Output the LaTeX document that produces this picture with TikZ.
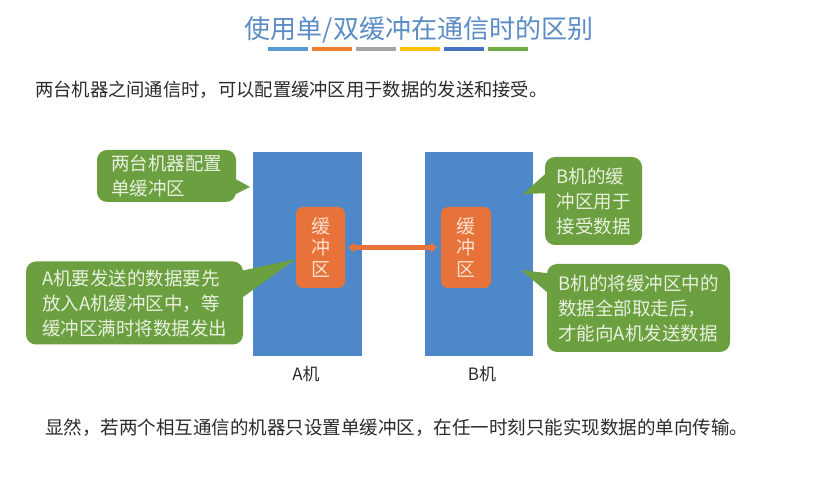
\documentclass[tikz,border=0pt]{standalone}
\usepackage{fontspec}
\setmainfont{Noto Sans CJK SC}
\usetikzlibrary{arrows.meta}
\definecolor{machine}{HTML}{4F88C9}
\definecolor{buf}{HTML}{E8733A}
\definecolor{buftext}{HTML}{FBE0CF}
\definecolor{callgreen}{HTML}{6B9F40}
\definecolor{calltext}{HTML}{E8F1DF}
\definecolor{titleblue}{HTML}{5B8CC6}
\definecolor{bodytext}{HTML}{2B2B2B}
\definecolor{barA}{HTML}{5B9BD5}
\definecolor{barB}{HTML}{ED7D31}
\definecolor{barC}{HTML}{A5A5A5}
\definecolor{barD}{HTML}{FFC000}
\definecolor{barE}{HTML}{4472C4}
\definecolor{barF}{HTML}{70AD47}
\tikzset{
  machinebox/.style={fill=machine, draw=none, inner sep=0pt},
  bufbox/.style={fill=buf, draw=none, rounded corners=7pt, inner sep=0pt,
    text=buftext, align=center, font=\fontsize{19}{21.5}\selectfont},
  callbox/.style={fill=callgreen, draw=none, rounded corners=10pt, inner sep=0pt,
    text=calltext, align=left, font=\fontsize{18.5}{25}\selectfont},
  pointer/.style={fill=callgreen, draw=none},
  bodyline/.style={text=bodytext, anchor=west, inner sep=0pt},
  machlabel/.style={text=bodytext, inner sep=0pt, font=\fontsize{17}{20}\selectfont},
  bufarrow/.style={draw=buf, line width=4.5pt, {Triangle[width=10pt,length=6pt]}-{Triangle[width=10pt,length=6pt]}},
  bar/.style={draw=none}
}
\begin{document}
\begin{tikzpicture}[x=1pt,y=-1pt]
\useasboundingbox[fill=white] (0,0) rectangle (828,494);

% title
\node[text=titleblue, inner sep=0pt, font=\fontsize{26}{30}\selectfont] (title) at (419,30) {使用单/双缓冲在通信时的区别};
\fill[barA] (268,47) rectangle (308,51);
\fill[barB] (312,47) rectangle (352,51);
\fill[barC] (356,47) rectangle (396,51);
\fill[barD] (400,47) rectangle (440,51);
\fill[barE] (444,47) rectangle (484,51);
\fill[barF] (488,47) rectangle (528,51);

% intro line
\node[bodyline, font=\fontsize{18.3}{22}\selectfont] (intro) at (35,90) {两台机器之间通信时，可以配置缓冲区用于数据的发送和接受。};

% machines
\node[machinebox, minimum width=109pt, minimum height=204pt] (A) at (307.5,254) {};
\node[machinebox, minimum width=108pt, minimum height=204pt] (B) at (479,254) {};

% buffers
\node[bufbox, minimum width=49pt, minimum height=81pt] (bufA) at (320.5,247.5) {缓\\冲\\区};
\node[bufbox, minimum width=50pt, minimum height=81pt] (bufB) at (466,247.5) {缓\\冲\\区};
\draw[bufarrow, shorten <=3pt, shorten >=4pt] (bufA.east) -- (bufB.west);

% machine labels
\node[machlabel] (labA) at (306,374) {A机};
\node[machlabel] (labB) at (482,374) {B机};

% callouts
\fill[pointer] (230,176) -- (250,187) -- (230,197) -- cycle;
\node[callbox, minimum width=139pt, minimum height=52pt] (c1) at (166.5,176) {两台机器配置\\单缓冲区};

\fill[pointer] (236,272) -- (296,259) -- (236,302) -- cycle;
\node[callbox, minimum width=217pt, minimum height=83pt] (c2) at (134.5,303) {A机要发送的数据要先\\放入A机缓冲区中，等\\缓冲区满时将数据发出};

\fill[pointer] (552,168) -- (523,194) -- (552,193) -- cycle;
\node[callbox, minimum width=97pt, minimum height=88pt] (c3) at (593.5,201) {B机的缓\\冲区用于\\接受数据};

\fill[pointer] (554,274) -- (521,270) -- (554,298) -- cycle;
\node[callbox, minimum width=183pt, minimum height=88pt] (c4) at (638.5,308) {B机的将缓冲区中的\\数据全部取走后，\\才能向A机发送数据};

% conclusion
\node[bodyline, font=\fontsize{18.5}{22}\selectfont] (concl) at (45,428) {显然，若两个相互通信的机器只设置单缓冲区，在任一时刻只能实现数据的单向传输。};
\end{tikzpicture}
\end{document}
